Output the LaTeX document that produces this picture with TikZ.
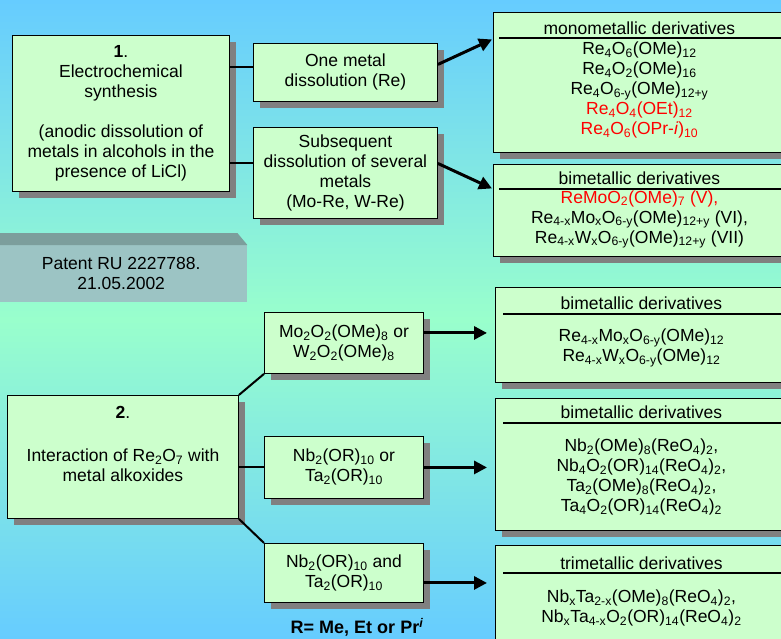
\documentclass[tikz,border=0pt]{standalone}
\usepackage{fontspec}
\setmainfont{Liberation Sans}
\usetikzlibrary{arrows.meta,positioning,calc,shadows}
\definecolor{boxfill}{HTML}{CCFFCC}
\definecolor{shade}{HTML}{808080}
\definecolor{skyblue}{HTML}{66CCFF}
\definecolor{mint}{HTML}{99FFCC}
\definecolor{patfront}{HTML}{9CC4C4}
\definecolor{pattop}{HTML}{7C9E9C}
\definecolor{chred}{HTML}{FF0000}
\tikzset{
  stage/.style={draw=black,line width=0.9pt,fill=boxfill,inner sep=0pt,align=center,
    anchor=north west,drop shadow={shadow xshift=7pt,shadow yshift=-7pt,fill=shade,opacity=1}},
  hdr/.style={inner sep=0pt,align=center},
  lst/.style={inner sep=0pt,align=center},
  link/.style={line width=2pt},
  ar/.style={line width=3pt,-{Triangle[length=13pt,width=13pt]}},
  hrule/.style={line width=1.3pt},
}
\newcommand{\sbs}[1]{\textsubscript{#1}}
\newcommand{\red}[1]{\textcolor{chred}{#1}}

\begin{document}
\begin{tikzpicture}[x=1pt,y=-1pt,every node/.style={font=\fontsize{17.5pt}{20pt}\selectfont}]
  \useasboundingbox (0,0) rectangle (781,639);
  \clip (0,0) rectangle (781,639);
  \shade[top color=skyblue,bottom color=skyblue,middle color=mint] (0,0) rectangle (781,639);
  % patent plate
  \node[fill=patfront,inner sep=0pt,align=center,anchor=north west,
    minimum width=252pt,minimum height=57pt] (patent) at (-5,245)
    {Patent RU 2227788.\\21.05.2002};
  \fill[pattop] (patent.north west) -- ([yshift=12pt]patent.north west)
    -- ([xshift=-10pt,yshift=12pt]patent.north east) -- (patent.north east) -- cycle;
  % route 1
  \node[stage,minimum width=217pt,minimum height=156pt] (syn) at (12,35)
    {\textbf{1}.\\Electrochemical\\synthesis\\[20pt](anodic dissolution of\\
     metals in alcohols in the\\presence of LiCl)};
  \node[stage,minimum width=184pt,minimum height=58pt] (one) at (253,43)
    {One metal\\dissolution (Re)};
  \node[stage,minimum width=184pt,minimum height=91pt] (sub) at (253,127)
    {Subsequent\\dissolution of several\\metals\\(Mo-Re, W-Re)};
  % route 2
  \node[stage,minimum width=231pt,minimum height=123pt] (ia) at (7,395)
    {\textbf{2}.\\[23pt]Interaction of Re\sbs{2}O\sbs{7} with\\metal alkoxides\\ \strut};
  \node[stage,minimum width=159pt,minimum height=61pt] (mo) at (264,312)
    {Mo\sbs{2}O\sbs{2}(OMe)\sbs{8} or\\W\sbs{2}O\sbs{2}(OMe)\sbs{8}};
  \node[stage,minimum width=159pt,minimum height=62pt] (nbor) at (264,436)
    {Nb\sbs{2}(OR)\sbs{10} or\\Ta\sbs{2}(OR)\sbs{10}};
  \node[stage,minimum width=159pt,minimum height=59pt] (nband) at (264,543)
    {Nb\sbs{2}(OR)\sbs{10} and\\Ta\sbs{2}(OR)\sbs{10}};
  \node[font=\bfseries\fontsize{18pt}{20pt}\selectfont] (rnote) at (357,627)
    {R= Me, Et or Pr\textsuperscript{\itshape i}};
  % products
  \node[stage,minimum width=292pt,minimum height=140pt] (mono) at (493,12) {};
  \node[hdr] (monoh) at ([yshift=-16pt]mono.north) {monometallic derivatives};
  \draw[hrule] ([xshift=6pt,yshift=-26pt]mono.north west) -- ([yshift=-26pt]mono.north east);
  \node[lst] (monol) at ([yshift=-78pt]mono.north)
    {Re\sbs{4}O\sbs{6}(OMe)\sbs{12}\\Re\sbs{4}O\sbs{2}(OMe)\sbs{16}\\
     Re\sbs{4}O\sbs{6-y}(OMe)\sbs{12+y}\\\red{Re\sbs{4}O\sbs{4}(OEt)\sbs{12}}\\
     \red{Re\sbs{4}O\sbs{6}(OPr-\textit{i})\sbs{10}}};
  \node[stage,minimum width=292pt,minimum height=92pt] (bima) at (493,164) {};
  \node[hdr] (bimah) at ([yshift=-14pt]bima.north) {bimetallic derivatives};
  \draw[hrule] ([xshift=6pt,yshift=-25pt]bima.north west) -- ([yshift=-25pt]bima.north east);
  \node[lst] (bimal) at ([yshift=-55.5pt]bima.north)
    {\red{ReMoO\sbs{2}(OMe)\sbs{7} (V),}\\
     Re\sbs{4-x}Mo\sbs{x}O\sbs{6-y}(OMe)\sbs{12+y} (VI),\\
     Re\sbs{4-x}W\sbs{x}O\sbs{6-y}(OMe)\sbs{12+y} (VII)};
  \node[stage,minimum width=292pt,minimum height=95pt] (bimb) at (495,287) {};
  \node[hdr] (bimbh) at ([yshift=-16pt]bimb.north) {bimetallic derivatives};
  \draw[hrule] ([xshift=8pt,yshift=-27pt]bimb.north west) -- ([yshift=-27pt]bimb.north east);
  \node[lst] (bimbl) at ([yshift=-61pt]bimb.north)
    {Re\sbs{4-x}Mo\sbs{x}O\sbs{6-y}(OMe)\sbs{12}\\Re\sbs{4-x}W\sbs{x}O\sbs{6-y}(OMe)\sbs{12}};
  \node[stage,minimum width=292pt,minimum height=132pt] (bimc) at (495,398) {};
  \node[hdr] (bimch) at ([yshift=-14pt]bimc.north) {bimetallic derivatives};
  \draw[hrule] ([xshift=8pt,yshift=-25pt]bimc.north west) -- ([yshift=-25pt]bimc.north east);
  \node[lst] (bimcl) at ([yshift=-79pt]bimc.north)
    {Nb\sbs{2}(OMe)\sbs{8}(ReO\sbs{4})\sbs{2},\\Nb\sbs{4}O\sbs{2}(OR)\sbs{14}(ReO\sbs{4})\sbs{2},\\
     Ta\sbs{2}(OMe)\sbs{8}(ReO\sbs{4})\sbs{2},\\Ta\sbs{4}O\sbs{2}(OR)\sbs{14}(ReO\sbs{4})\sbs{2}};
  \node[stage,minimum width=292pt,minimum height=115pt] (tri) at (495,545) {};
  \node[hdr] (trih) at ([yshift=-18pt]tri.north) {trimetallic derivatives};
  \draw[hrule] ([xshift=8pt,yshift=-28pt]tri.north west) -- ([yshift=-28pt]tri.north east);
  \node[lst] (tril) at ([yshift=-63pt]tri.north)
    {Nb\sbs{x}Ta\sbs{2-x}(OMe)\sbs{8}(ReO\sbs{4})\sbs{2},\\
     Nb\sbs{x}Ta\sbs{4-x}O\sbs{2}(OR)\sbs{14}(ReO\sbs{4})\sbs{2}};
  % connectors
  \draw[link] ([yshift=5pt]one.west) -- ([yshift=5pt]one.west -| syn.east);
  \draw[link] ([yshift=9.5pt]sub.west) -- ([yshift=9.5pt]sub.west -| syn.east);
  \draw[link] (ia.north east) -- (mo.south west);
  \draw[link] (nbor.west) -- (nbor.west -| ia.east);
  \draw[link] (ia.south east) -- (nband.north west);
  \draw[ar] ([yshift=8pt]one.east) -- ([yshift=43pt,xshift=-1pt]mono.west);
  \draw[ar] ([yshift=9.5pt]sub.east) -- ([yshift=22pt,xshift=-1pt]bima.west);
  \draw[ar,shorten >=8pt] ([yshift=10pt]mo.east) -- ([yshift=10pt]mo.east -| bimb.west);
  \draw[ar,shorten >=8pt] (nbor.east) -- (nbor.east -| bimc.west);
  \draw[ar,shorten >=8pt] ([yshift=-10pt]nband.east) -- ([yshift=-10pt]nband.east -| tri.west);
\end{tikzpicture}
\end{document}
